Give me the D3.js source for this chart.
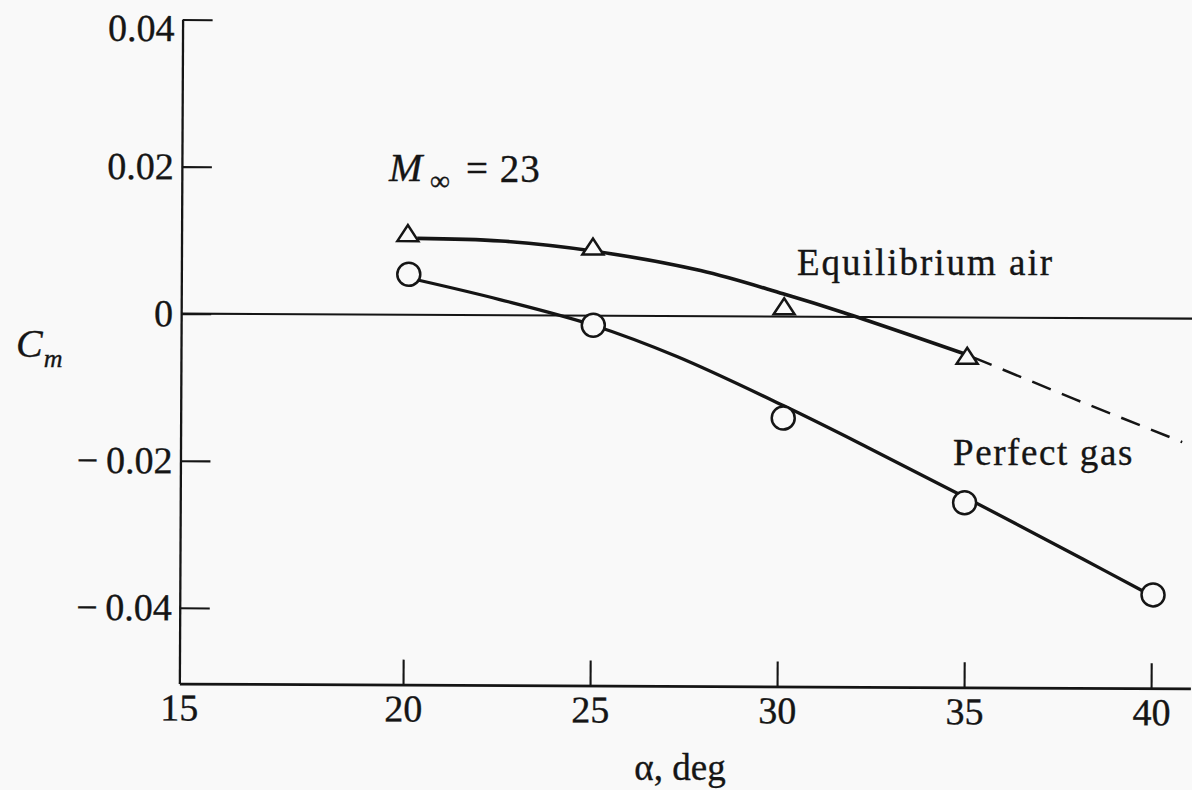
<!DOCTYPE html>
<html>
<head>
<meta charset="utf-8">
<script src="https://cdn.jsdelivr.net/npm/d3@7"></script>
<style>
	body { margin: 0; background: #f9f9f9; }
	svg { display: block; font-family: "Liberation Serif", "Times New Roman", serif; }
	text { fill: #151515; stroke: #151515; stroke-width: 0.35px; }
</style>
</head>
<body>
<svg width="1192" height="790"></svg>
<script>
// test points
var alphaTri = [20.07, 25.02, 30.14, 35.04];
var cmTri = [0.0109, 0.0092, 0.0012, -0.0054];
var alphaCirc = [20.10, 25.04, 30.13, 34.99, 40.04];
var cmCirc = [0.0055, -0.0013, -0.0138, -0.0252, -0.0376];

// faired curves
var alphaEq = [20.32, 22.56, 25.02, 27.90, 30.11, 31.72, 35.0];
var cmEq = [0.0104, 0.0101, 0.0088, 0.0062, 0.0031, 0.0006, -0.0050];
var alphaEqDash = [35.0, 37.9, 40.8];
var cmEqDash = [-0.0050, -0.0110, -0.0168];
var alphaPg = [20.37, 22.56, 25.04, 27.28, 30.13, 32.38, 34.95, 38.17, 39.78];
var cmPg = [0.0047, 0.0021, -0.0013, -0.0055, -0.0121, -0.0177, -0.0243, -0.0328, -0.0371];

var xTicks = [20, 25, 30, 35, 40];
var xOriginLabel = "15";
var yTicks = [0.04, 0.02, 0, -0.02, -0.04];

var ink = "#151515", paper = "#f9f9f9";
var serif = "Liberation Serif, Times New Roman, serif";

function zip (xs, ys) {
	return xs.map(function (v, i) { return [v, ys[i]]; });
}

var svg = d3.select("svg");
// the scan is turned a little clockwise
var g = svg.append("g").attr("transform", "rotate(0.28 686 350)");

var x = d3.scaleLinear().domain([14.02, 41.05]).range([181, 1192]);
var y = d3.scaleLinear().domain([-0.0503, 0.04]).range([686, 22]);

var yAxis = g.append("g")
	.attr("transform", "translate(" + x.range()[0] + ",0)")
	.call(d3.axisLeft(y)
		.tickValues(yTicks)
		.tickSizeInner(-30)
		.tickSizeOuter(0)
		.tickPadding(8)
		.tickFormat(function (d) {
			if (d == 0) return "0";
			return (d < 0 ? "\u2212\u2009" : "") + Math.abs(d).toFixed(2);
		}));

var xAxis = g.append("g")
	.attr("transform", "translate(0," + y.range()[0] + ")")
	.call(d3.axisBottom(x)
		.tickValues(xTicks)
		.tickSizeInner(-25)
		.tickSizeOuter(0)
		.tickPadding(10)
		.tickFormat(d3.format("d")));

[yAxis, xAxis].forEach(function (a) {
	a.attr("font-family", serif).attr("font-size", 38);
	a.selectAll("text").attr("fill", ink);
	a.selectAll("line").attr("stroke", ink).attr("stroke-width", 2.1);
});
yAxis.select(".domain").attr("stroke", ink).attr("stroke-width", 2.3);
xAxis.select(".domain").attr("stroke", ink).attr("stroke-width", 2.7);

// top label hangs just under its tick, as in the print
yAxis.selectAll(".tick text")
	.filter(function (d) { return d == yTicks[0]; })
	.attr("y", 9);

// "15" sits under the corner
xAxis.append("text")
	.attr("x", x.range()[0])
	.attr("y", 10)
	.attr("dy", "0.71em")
	.attr("text-anchor", "middle")
	.attr("fill", ink)
	.text(xOriginLabel);

// zero line
g.append("line")
	.attr("x1", x.range()[0]).attr("x2", x.range()[1])
	.attr("y1", y(0)).attr("y2", y(0))
	.attr("stroke", ink).attr("stroke-width", 2.1);

var line = d3.line()
	.x(function (d) { return x(d[0]); })
	.y(function (d) { return y(d[1]); })
	.curve(d3.curveCatmullRom);

g.append("path")
	.attr("d", line(zip(alphaEq, cmEq)))
	.attr("fill", "none").attr("stroke", ink).attr("stroke-width", 3.6);

g.append("path")
	.attr("d", d3.line().x(function (d) { return x(d[0]); }).y(function (d) { return y(d[1]); })(zip(alphaEqDash, cmEqDash)))
	.attr("fill", "none").attr("stroke", ink).attr("stroke-width", 2.5)
	.attr("stroke-dasharray", "20 12")
	.attr("stroke-dashoffset", -8);

g.append("path")
	.attr("d", line(zip(alphaPg, cmPg)))
	.attr("fill", "none").attr("stroke", ink).attr("stroke-width", 3.3);

// open triangles, a bit wider than tall
g.selectAll("path.tri")
	.data(zip(alphaTri, cmTri))
	.enter().append("path")
		.attr("class", "tri")
		.attr("transform", function (d) { return "translate(" + x(d[0]) + "," + y(d[1]) + ")"; })
		.attr("d", "M-10.5,6.5L0,-9.5L10.5,6.5Z")
		.attr("fill", paper).attr("stroke", ink).attr("stroke-width", 2.5)
		.attr("stroke-linejoin", "miter");

g.selectAll("circle.pg")
	.data(zip(alphaCirc, cmCirc))
	.enter().append("circle")
		.attr("class", "pg")
		.attr("cx", function (d) { return x(d[0]); })
		.attr("cy", function (d) { return y(d[1]); })
		.attr("r", 11.5)
		.attr("fill", paper).attr("stroke", ink).attr("stroke-width", 2.5);

// labels
var cm = svg.append("text").attr("x", 16).attr("y", 357).attr("font-size", 40).attr("font-style", "italic");
cm.append("tspan").text("C");
cm.append("tspan").attr("font-size", 26).attr("dy", 10).attr("dx", 1).text("m");

svg.append("text").attr("x", 389).attr("y", 181).attr("font-size", 40).attr("font-style", "italic").text("M");
svg.append("text").attr("x", 430).attr("y", 190).attr("font-size", 28).text("\u221e");
svg.append("text").attr("x", 466).attr("y", 182).attr("font-size", 39).attr("letter-spacing", 1).text("= 23");

svg.append("text").attr("x", 797).attr("y", 275).attr("font-size", 37).attr("letter-spacing", 2).text("Equilibrium air");
svg.append("text").attr("x", 953).attr("y", 465).attr("font-size", 37).attr("letter-spacing", 1.6).text("Perfect gas");
svg.append("text").attr("x", 680).attr("y", 780).attr("font-size", 37).attr("text-anchor", "middle").text("\u03b1, deg");
</script>
</body>
</html>
